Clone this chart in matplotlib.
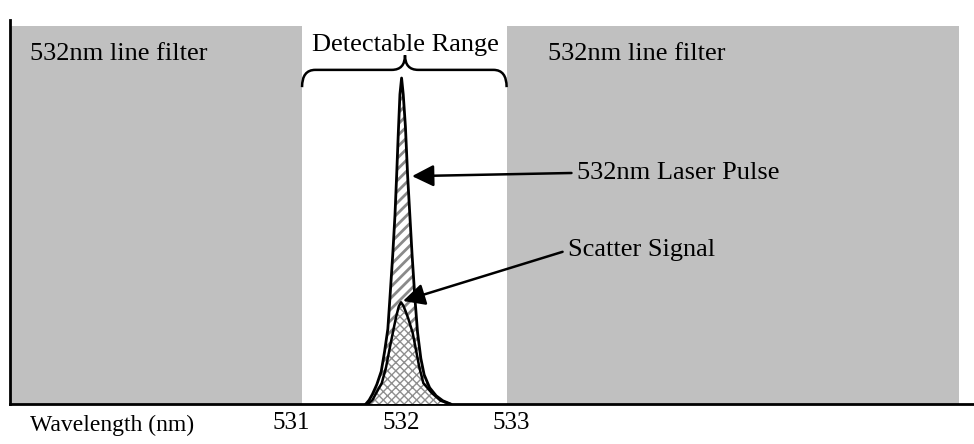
import matplotlib
matplotlib.use("Agg")
import matplotlib.pyplot as plt
from matplotlib.path import Path
from matplotlib.patches import PathPatch, Rectangle

plt.rcParams['font.family'] = ['Liberation Serif', 'DejaVu Serif']

# filter blocks (nm) and the window between them
filter_left = (528.445, 531.10)
filter_right = (532.96, 537.07)
filter_top = 1.16
filter_label = '532nm line filter'

# laser pulse profile (wavelength nm, relative intensity)
laser_x = [531.68, 531.71, 531.74, 531.78, 531.82, 531.85, 531.88, 531.90, 531.925,
           531.945, 531.96, 531.975, 531.99, 532.005, 532.02, 532.04, 532.06, 532.08,
           532.10, 532.125, 532.15, 532.18, 532.21, 532.26, 532.32, 532.38, 532.45]
laser_y = [0.0, 0.012, 0.03, 0.06, 0.10, 0.16, 0.23, 0.33, 0.46,
           0.58, 0.70, 0.83, 0.95, 1.0, 0.95, 0.85, 0.70, 0.58,
           0.46, 0.33, 0.22, 0.14, 0.09, 0.05, 0.025, 0.01, 0.0]

# scatter signal profile
scatter_x = [531.70, 531.74, 531.775, 531.825, 531.864, 531.894, 531.925, 531.955, 531.98,
             532.0, 532.02, 532.041, 532.066, 532.106, 532.136, 532.166, 532.203, 532.279,
             532.36, 532.45]
scatter_y = [0.0, 0.012, 0.034, 0.064, 0.113, 0.166, 0.218, 0.267, 0.30,
             0.312, 0.302, 0.285, 0.262, 0.218, 0.166, 0.113, 0.064, 0.034,
             0.01, 0.0]

tick_pos = [531, 532, 533]
tick_lab = ['531', '532', '533']

fig = plt.figure(figsize=(9.74, 4.44), dpi=100)
ax = fig.add_axes([10 / 974, 40 / 444, 964 / 974, 384 / 444])
ax.set_xlim(528.445, 537.209)
ax.set_ylim(0, 1.178)
for s in ['top', 'right']:
    ax.spines[s].set_visible(False)
ax.spines['left'].set_linewidth(2)
ax.spines['bottom'].set_linewidth(2)
ax.set_yticks([])
ax.set_xticks(tick_pos, tick_lab, fontsize=18)
ax.tick_params(axis='x', length=0, pad=6)

# filter blocks
for a, b in [filter_left, filter_right]:
    ax.add_patch(Rectangle((a, 0), b - a, filter_top, facecolor='#c0c0c0',
                           edgecolor='none', zorder=1))
ax.text(528.627, 1.075, filter_label, fontsize=19, ha='left', va='center', zorder=5)
ax.text(533.336, 1.075, filter_label, fontsize=19, ha='left', va='center', zorder=5)

# peaks
plt.rcParams['hatch.linewidth'] = 2.0
ax.fill_between(laser_x, laser_y, 0, facecolor='white', edgecolor='#8a8a8a',
                hatch='///', linewidth=0, zorder=2)
ax.plot(laser_x, laser_y, color='black', lw=2, zorder=4)
plt.rcParams['hatch.linewidth'] = 1.0
ax.fill_between(scatter_x, scatter_y, 0, facecolor='white', edgecolor='#8f8f8f',
                hatch='xxxx', linewidth=0, zorder=3)
ax.plot(scatter_x, scatter_y, color='black', lw=1.8, zorder=4)

# brace over detectable range
xl, xr, xm = 531.10, 532.96, 532.036
yb, yh, yt, r = 0.972, 1.025, 1.07, 0.12
verts = [(xl, yb), (xl, yh), (xl + r, yh), (xm - r, yh), (xm, yh), (xm, yt),
         (xm, yh), (xm + r, yh), (xr - r, yh), (xr, yh), (xr, yb)]
codes = [Path.MOVETO, Path.CURVE3, Path.CURVE3, Path.LINETO, Path.CURVE3, Path.CURVE3,
         Path.CURVE3, Path.CURVE3, Path.LINETO, Path.CURVE3, Path.CURVE3]
ax.add_patch(PathPatch(Path(verts, codes), facecolor='none', edgecolor='black', lw=1.8,
                       zorder=5, clip_on=False))
ax.text(xm, 1.10, 'Detectable Range', fontsize=19, ha='center', va='center', zorder=5)

# annotations
arrow = dict(arrowstyle='-|>,head_length=0.6,head_width=0.3', mutation_scale=22,
             color='black', lw=1.8, shrinkA=2, shrinkB=0, relpos=(0, 0.5))
ax.annotate('532nm Laser Pulse', xy=(532.10, 0.699), xytext=(533.6, 0.709),
            fontsize=19, ha='left', va='center', arrowprops=arrow, zorder=6)
ax.annotate('Scatter Signal', xy=(532.018, 0.316), xytext=(533.518, 0.472),
            fontsize=19, ha='left', va='center', arrowprops=arrow, zorder=6)

fig.text(30 / 974, 1 - 425 / 444, 'Wavelength (nm)', fontsize=17, ha='left', va='center')

fig.savefig('out.png', dpi=100)
